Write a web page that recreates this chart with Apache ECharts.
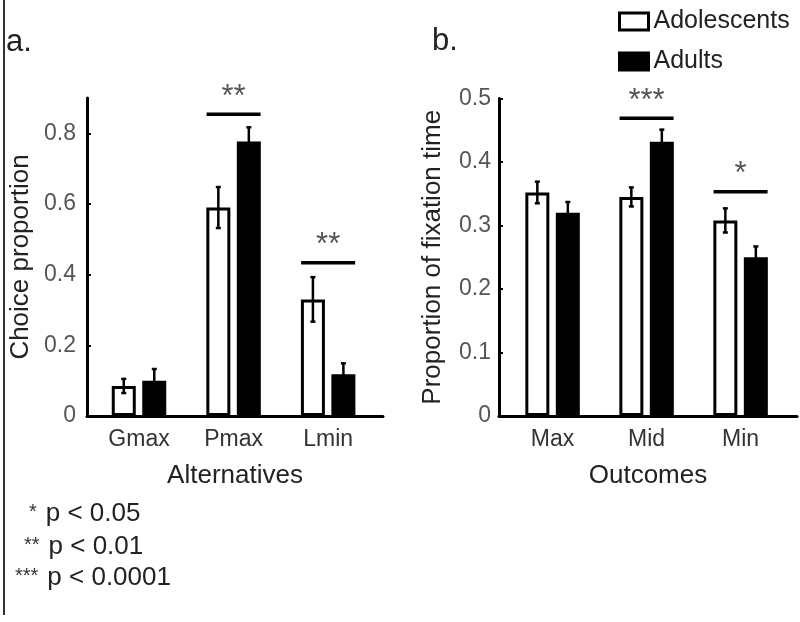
<!DOCTYPE html>
<html>
<head>
<meta charset="utf-8">
<script src="https://cdn.jsdelivr.net/npm/echarts@6/dist/echarts.min.js"></script>
<style>
html,body{margin:0;padding:0;background:#fff;}
#chart{width:800px;height:622px;}
</style>
</head>
<body>
<div id="chart"></div>
<script>
// ---- data ----
const catsA = ['Gmax', 'Pmax', 'Lmin'];
const adolA = [0.085, 0.590, 0.330];
const adolAErr = [0.020, 0.058, 0.063];
const adultA = [0.100, 0.777, 0.118];
const adultAErr = [0.033, 0.040, 0.031];

const catsB = ['Max', 'Mid', 'Min'];
const adolB = [0.352, 0.345, 0.308];
const adolBErr = [0.017, 0.015, 0.019];
const adultB = [0.320, 0.432, 0.250];
const adultBErr = [0.017, 0.019, 0.017];

const ticksA = [0, 0.2, 0.4, 0.6, 0.8];
const ticksB = [0, 0.1, 0.2, 0.3, 0.4, 0.5];

// significance annotations: category index, level (data units), label
const sigCatA = [1, 2];
const sigLevelA = [0.854, 0.434];
const sigLabelA = ['**', '**'];
const sigCatB = [1, 2];
const sigLevelB = [0.469, 0.353];
const sigLabelB = ['***', '*'];

const footnotes = [['*', 'p < 0.05'], ['**', 'p < 0.01'], ['***', 'p < 0.0001']];
const groupNames = ['Adolescents', 'Adults'];

// ---- helpers ----
const FONT = 'Liberation Sans';
const pos = (arr) => arr.map((v, i) => [i + 1, v]);
const withErr = (vals, errs) => vals.map((v, i) => [i + 1, v, errs[i]]);

function errSeries(gi, vals, errs, off) {
  return {
    type: 'custom', xAxisIndex: gi, yAxisIndex: gi, z: 5, clip: false,
    encode: { x: 0, y: 1 },
    data: withErr(vals, errs),
    renderItem: function (params, api) {
      const x = api.value(0), m = api.value(1), e = api.value(2);
      const t = api.coord([x, m + e]);
      const b = api.coord([x, m - e]);
      const cx = t[0] + off;
      const st = { stroke: '#000', lineWidth: 2.5 };
      return {
        type: 'group', children: [
          { type: 'line', shape: { x1: cx, y1: t[1], x2: cx, y2: b[1] }, style: st },
          { type: 'line', shape: { x1: cx - 2.5, y1: t[1], x2: cx + 2.5, y2: t[1] }, style: st },
          { type: 'line', shape: { x1: cx - 2.5, y1: b[1], x2: cx + 2.5, y2: b[1] }, style: st }
        ]
      };
    }
  };
}

function sigSeries(gi, cats, levels, labels) {
  return {
    type: 'custom', xAxisIndex: gi, yAxisIndex: gi, z: 6, clip: false,
    encode: { x: 0, y: 1 },
    data: cats.map((c, i) => [c + 1, levels[i], i]),
    renderItem: function (params, api) {
      const p = api.coord([api.value(0), api.value(1)]);
      const lab = labels[api.value(2)];
      return {
        type: 'group', children: [
          { type: 'line', shape: { x1: p[0] - 27, y1: p[1], x2: p[0] + 27, y2: p[1] },
            style: { stroke: '#000', lineWidth: 3.5 } },
          { type: 'text', x: p[0], y: p[1] - 17,
            style: { text: lab, fontSize: 31, fontFamily: FONT, fill: '#555',
                     align: 'center', verticalAlign: 'middle' } }
        ]
      };
    }
  };
}

function barSeries(gi, name, vals, dark) {
  return {
    type: 'bar', name: name, xAxisIndex: gi, yAxisIndex: gi,
    data: pos(vals), barWidth: 24, barGap: '27%',
    itemStyle: { color: dark ? '#000' : '#fff', borderColor: '#000', borderWidth: 3 },
    emphasis: { disabled: true }
  };
}

function xAxisCfg(gi, cats, min, max, name) {
  return {
    type: 'value', gridIndex: gi, min: min, max: max,
    axisLine: { show: true, onZero: false, lineStyle: { color: '#000', width: 3 } },
    axisTick: { show: false },
    splitLine: { show: false },
    axisLabel: {
      customValues: cats.map((c, i) => i + 1),
      formatter: (v) => cats[Math.round(v) - 1] || '',
      fontSize: 23, fontFamily: FONT, color: '#333', margin: 12
    },
    name: name, nameLocation: 'middle', nameGap: 47,
    nameTextStyle: { fontSize: 26, fontFamily: FONT, color: '#222' }
  };
}

function yAxisCfg(gi, ticks, max, name, margin) {
  return {
    type: 'value', gridIndex: gi, min: 0, max: max,
    axisLine: { show: true, onZero: false, lineStyle: { color: '#000', width: 3 } },
    axisTick: { show: true, inside: true, length: 4, customValues: ticks, lineStyle: { color: '#000', width: 2 } },
    splitLine: { show: false },
    axisLabel: { customValues: ticks, fontSize: 23, fontFamily: FONT, color: '#555', margin: margin },
    name: name, nameLocation: 'middle', nameGap: 53,
    nameTextStyle: { fontSize: 26, fontFamily: FONT, color: '#222' }
  };
}

const chart = echarts.init(document.getElementById('chart'), null, { renderer: 'canvas' });

const footGraphics = footnotes.map((f, i) => ({
  type: 'text',
  left: [29, 24, 15][i],
  top: [501, 534, 565][i],
  style: {
    text: '{s|' + f[0] + '}{t|' + f[1] + '}',
    rich: {
      s: { fontSize: 20, fontFamily: FONT, fill: '#333', verticalAlign: 'top', padding: [1, 9, 0, 0] },
      t: { fontSize: 26, fontFamily: FONT, fill: '#222' }
    }
  }
}));

chart.setOption({
  animation: false,
  backgroundColor: '#fff',
  grid: [
    { left: 87, right: 417, top: 98, bottom: 206 },
    { left: 499, right: 3, top: 98.5, bottom: 206 }
  ],
  xAxis: [
    xAxisCfg(0, catsA, 0.45, 3.58, 'Alternatives'),
    xAxisCfg(1, catsB, 0.43, 3.6, 'Outcomes')
  ],
  yAxis: [
    yAxisCfg(0, ticksA, 0.9, 'Choice proportion', 11),
    yAxisCfg(1, ticksB, 0.5, 'Proportion of fixation time', 8)
  ],
  legend: {
    orient: 'vertical', left: 613, top: 4, itemWidth: 29, itemHeight: 17, itemGap: 15,
    selectedMode: false,
    icon: 'rect',
    textStyle: { fontSize: 25, fontFamily: FONT, color: '#222' },
    data: [
      { name: groupNames[0], itemStyle: { color: '#fff', borderColor: '#000', borderWidth: 3 } },
      { name: groupNames[1], itemStyle: { color: '#000', borderColor: '#000', borderWidth: 3 } }
    ]
  },
  graphic: [
    { type: 'line', shape: { x1: 4, y1: 0, x2: 4, y2: 615 }, style: { stroke: '#333', lineWidth: 2 } },
    { type: 'text', left: 6, top: 27, style: { text: 'a.', fontSize: 31, fontFamily: FONT, fill: '#222' } },
    { type: 'text', left: 432, top: 26, style: { text: 'b.', fontSize: 31, fontFamily: FONT, fill: '#222' } }
  ].concat(footGraphics),
  series: [
    barSeries(0, groupNames[0], adolA, false),
    barSeries(0, groupNames[1], adultA, true),
    barSeries(1, groupNames[0], adolB, false),
    barSeries(1, groupNames[1], adultB, true),
    errSeries(0, adolA, adolAErr, -15.25),
    errSeries(0, adultA, adultAErr, 15.25),
    errSeries(1, adolB, adolBErr, -15.25),
    errSeries(1, adultB, adultBErr, 15.25),
    sigSeries(0, sigCatA, sigLevelA, sigLabelA),
    sigSeries(1, sigCatB, sigLevelB, sigLabelB)
  ]
});
</script>
</body>
</html>
